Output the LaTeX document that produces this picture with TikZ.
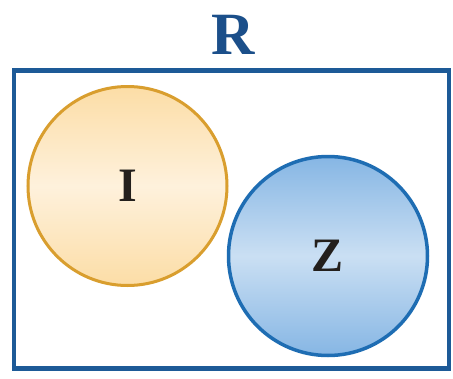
\documentclass[tikz,border=0pt]{standalone}
\usepackage{fontspec}
\setmainfont{Liberation Serif}
\definecolor{boxblue}{HTML}{1D5A97}
\definecolor{titleblue}{HTML}{1B4F8A}
\definecolor{orangeedge}{HTML}{D99E2E}
\definecolor{orangedark}{HTML}{FCDDA6}
\definecolor{orangelight}{HTML}{FEF1DC}
\definecolor{blueedge}{HTML}{1E6DB3}
\definecolor{bluedark}{HTML}{86B6E4}
\definecolor{bluelight}{HTML}{CADFF3}
\definecolor{textdark}{HTML}{231F1C}
\begin{document}
\begin{tikzpicture}[x=1pt,y=-1pt,
  setbox/.style={draw=boxblue,line width=4.5pt,minimum width=435pt,minimum height=298pt,inner sep=0pt},
  setI/.style={circle,draw=orangeedge,line width=3pt,minimum size=199pt,inner sep=0pt,
    top color=orangedark,bottom color=orangedark,middle color=orangelight,
    font=\fontsize{48}{48}\selectfont\bfseries,text=textdark},
  setZ/.style={circle,draw=blueedge,line width=3.5pt,minimum size=199pt,inner sep=0pt,
    top color=bluedark,bottom color=bluedark,middle color=bluelight,
    font=\fontsize{48}{48}\selectfont\bfseries,text=textdark},
  title/.style={font=\fontsize{60}{60}\selectfont\bfseries,text=titleblue,inner sep=0pt}]
\useasboundingbox (0,0) rectangle (453,378);
\fill[white] (0,0) rectangle (453,378);
\node[setbox] (box) at (231.5,219.5) {};
\node[title] (R) at (233,35) {R};
\node[setI] (I) at (127.5,186) {I};
\node[setZ] (Z) at (328,256) {Z};
\end{tikzpicture}
\end{document}
